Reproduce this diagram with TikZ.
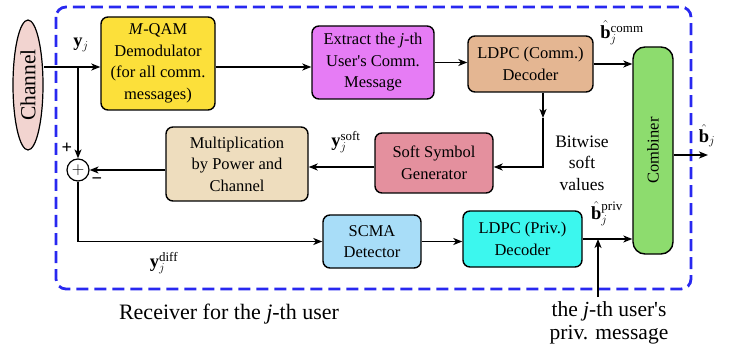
\documentclass[tikz,border=0pt]{standalone}
\usepackage{fontspec}
\setmainfont{Liberation Serif}
\usepackage{amsmath}
\usetikzlibrary{arrows.meta,shapes.geometric}
\definecolor{cYel}{RGB}{252,224,58}
\definecolor{cMag}{RGB}{230,124,245}
\definecolor{cLdc}{RGB}{228,182,146}
\definecolor{cSoft}{RGB}{228,144,158}
\definecolor{cMul}{RGB}{238,221,190}
\definecolor{cScma}{RGB}{168,221,248}
\definecolor{cLdp}{RGB}{60,247,238}
\definecolor{cComb}{RGB}{141,220,110}
\definecolor{cChan}{RGB}{242,212,208}
\definecolor{cBlue}{RGB}{40,40,240}
\tikzset{
  blk/.style={draw=black, line width=1.4pt, rounded corners=7pt, align=center, inner sep=1pt,
    font=\fontsize{16.5}{21.5}\selectfont},
  conn/.style={line width=1.3pt, -{Stealth[length=9pt,width=7pt,inset=2.5pt]}},
  lbl/.style={font=\fontsize{18.5}{22}\selectfont, inner sep=0pt},
  big/.style={font=\fontsize{22}{23}\selectfont, align=center, inner sep=0pt},
}
\begin{document}
\begin{tikzpicture}[x=1pt,y=-1pt]
\useasboundingbox (0,0) rectangle (751,347);
% outer dashed frame
\draw[cBlue, line width=2.8pt, dash pattern=on 12pt off 6pt, rounded corners=10pt] (56,7) rectangle (691,289);

\node[draw=black, line width=1.2pt, ellipse, fill=cChan, minimum width=30, minimum height=130, inner sep=0pt] (channel) at (28,85) {};
\node[rotate=90, font=\fontsize{21.5}{22}\selectfont] (chantext) at (channel) {Channel};

\node[blk, fill=cYel, minimum width=114, minimum height=93] (demod) at (158,63.5) {\textit{M}-QAM\\Demodulator\\(for all comm.\\messages)};
\node[blk, fill=cMag, minimum width=122, minimum height=73] (extract) at (373,62.5) {Extract the \textit{j}-th\\User\textquotesingle s Comm.\\Message};
\node[blk, fill=cLdc, minimum width=125, minimum height=56] (ldpcc) at (530.5,64) {LDPC (Comm.)\\Decoder};
\node[blk, fill=cComb, minimum width=40, minimum height=207, rounded corners=12pt] (comb) at (653,150.5) {};
\node[rotate=90, font=\fontsize{16.5}{20}\selectfont] (combtext) at (comb) {Combiner};
\node[blk, fill=cSoft, minimum width=118, minimum height=60] (soft) at (434,163) {Soft Symbol\\Generator};
\node[blk, fill=cMul, minimum width=142, minimum height=74] (mult) at (237,164) {Multiplication\\by Power and\\Channel};
\node[blk, fill=cScma, minimum width=98, minimum height=53] (scma) at (372,241.5) {SCMA\\Detector};
\node[blk, fill=cLdp, minimum width=119, minimum height=56] (ldpcp) at (522.5,239) {LDPC (Priv.)\\Decoder};
\node[draw=black, line width=1.2pt, circle, fill=white, minimum size=22, inner sep=0pt, font=\fontsize{16}{16}\selectfont] (sum) at (78,170) {$+$};

\coordinate (yin) at (78,67);
\coordinate (bw) at (543,167);
\coordinate (bwmid) at (543,118);
\coordinate (pm) at (598,297);
\coordinate (out) at (708,155);

% connectors
\draw[conn] (channel.east |- yin) -- (demod.west |- yin);
\draw[conn] (yin) -- (sum.north);
\draw[conn] (demod.east |- yin) -- (extract.west |- yin);
\draw[conn] (extract.east) -- (ldpcc.west |- extract.east);
\draw[conn] (ldpcc.east) -- (comb.west |- ldpcc.east);
\draw[conn] (ldpcc.south -| bw) -- (bwmid);
\draw[conn] (bwmid) -- (bw) -- (soft.east |- bw);
\draw[conn] (soft.west |- bw) -- (mult.east |- bw);
\draw[conn] (mult.west |- sum) -- (sum.east);
\draw[conn] (sum.south) |- (scma.west);
\draw[conn] (scma.east) -- (ldpcp.west |- scma.east);
\draw[conn] (ldpcp.east) -- (comb.west |- ldpcp.east);
\draw[conn] (pm) -- (pm |- ldpcp.east);
\draw[conn] (comb.east |- out) -- (out);

% labels
\node[lbl] (lyj) at (81,45) {$\mathbf{y}_j$};
\node[lbl] (lplus) at (67,148) {\textbf{+}};
\node[lbl] (lminus) at (97,181) {\textbf{\textminus}};
\node[lbl] (lsoft) at (346,142) {$\mathbf{y}_j^{\mathrm{soft}}$};
\node[lbl] (lcomm) at (622,33) {$\hat{\mathbf{b}}_j^{\mathrm{comm}}$};
\node[lbl] (lbj) at (707,136) {$\hat{\mathbf{b}}_j$};
\node[lbl] (lpriv) at (607,214) {$\hat{\mathbf{b}}_j^{\mathrm{priv}}$};
\node[lbl] (ldiff) at (164,263) {$\mathbf{y}_j^{\mathrm{diff}}$};
\node[align=center, inner sep=0pt, font=\fontsize{17.5}{21.5}\selectfont] (lbit) at (582,163) {Bitwise\\soft\\values};
\node[big] (lrecv) at (229,314) {Receiver for the \textit{j}-th user};
\node[big, font=\fontsize{21.5}{23}\selectfont] (lpm) at (609,323) {the \textit{j}-th user\textquotesingle s\\priv. message};
\end{tikzpicture}
\end{document}
